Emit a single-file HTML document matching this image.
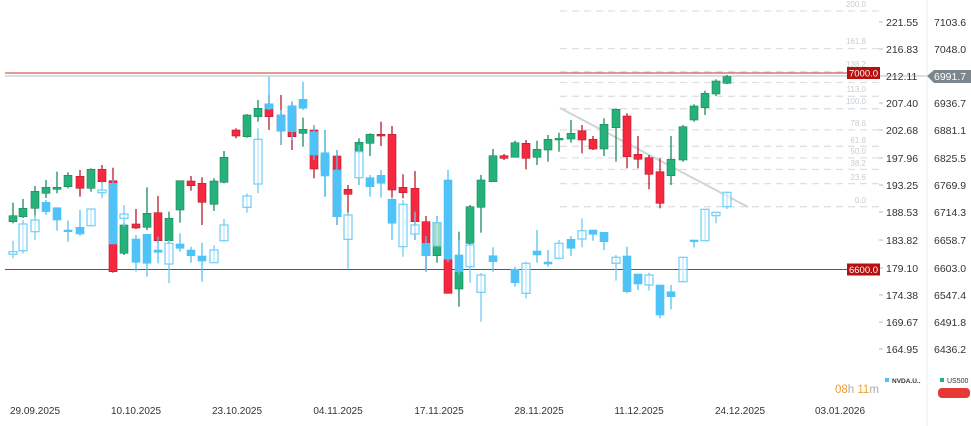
<!DOCTYPE html>
<html><head><meta charset="utf-8"><style>
html,body{margin:0;padding:0;background:#fff;width:971px;height:426px;overflow:hidden;font-family:"Liberation Sans",sans-serif}
svg{display:block}
</style></head><body>
<svg id="s" width="971" height="426" xmlns="http://www.w3.org/2000/svg" font-family="Liberation Sans, sans-serif">
<g id="fib" stroke="#dde1e4" stroke-width="1.3" stroke-dasharray="7,5"></g>
<g font-size="8" fill="#c8cdd2" text-anchor="end">
<text x="866" y="7">200.0</text><text x="866" y="44">161.8</text><text x="866" y="67">138.2</text>
<text x="866" y="92">113.0</text><text x="866" y="104">100.0</text><text x="866" y="126">78.6</text>
<text x="866" y="143">61.8</text><text x="866" y="154">50.0</text><text x="866" y="166">38.2</text>
<text x="866" y="180">23.6</text><text x="866" y="203">0.0</text>
</g>
<line x1="560" y1="108" x2="748" y2="207" stroke="#cfd4d8" stroke-width="2"/>
<line x1="5" y1="73" x2="880" y2="73" stroke="#c0392b" stroke-width="1"/>
<line x1="5" y1="76" x2="930" y2="76" stroke="#b8bec3" stroke-width="1"/>
<line x1="5" y1="269.5" x2="880" y2="269.5" stroke="#c62828" stroke-width="1"/>
<g id="c"></g>
<line x1="927" y1="0" x2="927" y2="426" stroke="#eef0f2"/>
<g font-size="10.5" fill="#333" >
<text x="886" y="26">221.55</text><text x="886" y="53">216.83</text><text x="886" y="80">212.11</text>
<text x="886" y="107">207.40</text><text x="886" y="134">202.68</text><text x="886" y="162">197.96</text>
<text x="886" y="189">193.25</text><text x="886" y="216">188.53</text><text x="886" y="244">183.82</text>
<text x="886" y="272">179.10</text><text x="886" y="299">174.38</text><text x="886" y="326">169.67</text>
<text x="886" y="353">164.95</text>
<text x="934" y="26">7103.6</text><text x="934" y="53">7048.0</text>
<text x="934" y="107">6936.7</text><text x="934" y="134">6881.1</text><text x="934" y="162">6825.5</text>
<text x="934" y="189">6769.9</text><text x="934" y="216">6714.3</text><text x="934" y="244">6658.7</text>
<text x="934" y="272">6603.0</text><text x="934" y="299">6547.4</text><text x="934" y="326">6491.8</text>
<text x="934" y="353">6436.2</text>
</g>
<g stroke="#bbb"><line x1="879" y1="22" x2="883" y2="22"/><line x1="879" y1="49" x2="883" y2="49"/><line x1="879" y1="103" x2="883" y2="103"/><line x1="879" y1="130" x2="883" y2="130"/><line x1="879" y1="158" x2="883" y2="158"/><line x1="879" y1="185" x2="883" y2="185"/><line x1="879" y1="212" x2="883" y2="212"/><line x1="879" y1="240" x2="883" y2="240"/><line x1="879" y1="268" x2="883" y2="268"/><line x1="879" y1="295" x2="883" y2="295"/><line x1="879" y1="322" x2="883" y2="322"/><line x1="879" y1="349" x2="883" y2="349"/></g>
<rect x="847" y="67" width="33" height="12" fill="#b80f0f"/><text x="863.5" y="76.5" font-size="9.5" fill="#fff" text-anchor="middle">7000.0</text>
<rect x="847" y="263.5" width="33" height="12" fill="#b80f0f"/><text x="863.5" y="273" font-size="9.5" fill="#fff" text-anchor="middle">6600.0</text>
<polygon points="927,76 934,70 971,70 971,83 934,83" fill="#7d868c"/><text x="934" y="80" font-size="10.5" fill="#fff">6991.7</text>
<g font-size="10" fill="#333" text-anchor="middle">
<text x="35" y="414">29.09.2025</text><text x="136" y="414">10.10.2025</text><text x="237" y="414">23.10.2025</text>
<text x="338" y="414">04.11.2025</text><text x="439" y="414">17.11.2025</text><text x="539" y="414">28.11.2025</text>
<text x="639" y="414">11.12.2025</text><text x="740" y="414">24.12.2025</text><text x="840" y="414">03.01.2026</text>
</g>
<text x="835" y="393" font-size="11.5" fill="#f5a030">08<tspan fill="#aaa">h </tspan>11<tspan fill="#aaa">m</tspan></text>
<rect x="885" y="378" width="4" height="4" fill="#4fc3f7"/><text x="892" y="383" font-size="6.5" fill="#333" font-weight="bold">NVDA.U..</text>
<rect x="940" y="378" width="4" height="4" fill="#26b07a"/><text x="947" y="383" font-size="7" fill="#333">US500</text>
<rect x="938" y="388" width="32" height="10" rx="4" fill="#e53935"/>
</svg>
<script>
var NS="http://www.w3.org/2000/svg";
var fib=document.getElementById('fib');
[11,48.6,71.7,82.5,96.3,108.7,129.9,146.3,157.9,169.4,183.6,206.7].forEach(function(y){
var l=document.createElementNS(NS,'line');l.setAttribute('x1',560);l.setAttribute('x2',880);l.setAttribute('y1',y);l.setAttribute('y2',y);fib.appendChild(l);});
var U=[[13,215.7,221.7,202.7,223.3,'g'],[23,208.3,216.7,199,218,'g'],[35,191.3,208.3,186,216.7,'g'],[46,187.3,193.3,180,198,'g'],[57,187.3,189.3,171.7,193.3,'g'],[68,175.3,186.7,172.3,188.3,'g'],[80,176.3,188.3,170,196.7,'r'],[91,169.3,188.3,168.3,191.7,'g'],[102,169.3,181.7,165,183.3,'r'],[113,180.7,271.7,167.7,272.7,'r'],[124,225,253.3,223,255,'g'],[136,224,228,209,229,'r'],[147,213.3,227.3,187.3,230,'g'],[158,212.7,240.7,196,243.3,'r'],[169,218.3,240.7,211.7,243.3,'g'],[180,180.7,210,180.7,222.7,'g'],[191,181,185.7,176,190.7,'r'],[202,183.3,202.3,177.3,225,'r'],[214,181,204.3,178.3,211,'g'],[224,157.3,182.3,151,183.3,'g'],[236,130,136,128.3,138.3,'r'],[247,115,136.7,114,137.7,'g'],[258,108.3,116.7,100,121.7,'g'],[269,104,116.7,95,130,'r'],[281,115,131,95,145,'r'],[292,106,136.7,101.7,150,'r'],[303,129.3,133.3,117.7,146.7,'g'],[314,130,169,125,178.3,'r'],[325,155,170,130,196.7,'g'],[337,156,216.7,150,225,'r'],[348,189.3,194.3,185,215,'r'],[359,142.3,151.7,138.3,185,'g'],[370,134.3,143.3,133.3,156,'g'],[381,134.3,136,121.7,146,'r'],[392,134.3,190,126,197.7,'r'],[403,187.3,192.7,174.3,198.3,'r'],[415,188.3,221.7,171,240,'r'],[426,221.7,255.7,216,271.7,'r'],[437,222.7,255.7,216,262.7,'g'],[448,259.3,293.3,180,293.3,'r'],[459,271.7,289,231.7,306.7,'g'],[470,206.7,243.3,205,245,'g'],[481,180,207.3,175,232.7,'g'],[493,155.7,181.7,149,181.7,'g'],[504,155.7,158.3,154,160,'r'],[515,142.7,157.3,140.7,157.3,'g'],[526,143.3,158.3,140,169.3,'r'],[537,149.3,157.3,140.7,165,'g'],[548,139.3,150,135,161.7,'g'],[559,138.3,140,132.7,151.7,'g'],[571,133.3,139,120,142.7,'g'],[582,130.7,140,125,153.3,'r'],[593,139.3,149,136,150,'r'],[604,124.3,149,118.3,156,'g'],[616,109.3,127.7,108.3,161.7,'g'],[627,116,156.7,113.3,168.3,'r'],[638,154.3,159.3,136,168.3,'r'],[649,157.7,174.3,155,189.3,'r'],[660,171.7,203.3,158.3,208.3,'r'],[671,159.3,175.7,136,185,'g'],[683,126.7,160,125,161.7,'g'],[694,106,120,104.3,121.7,'g'],[705,93.3,107.7,90.7,115,'g'],[716,81,94,79.3,96,'g'],[727,76.7,83.3,75,84,'g']];
var N=[[13,251.7,254.3,240.7,258.3,'h'],[23,224,250.7,220,253.3,'h'],[35,220,231.7,215,240,'h'],[46,202.3,211.7,200,215,'b'],[57,207.7,220,207.7,230.7,'b'],[68,230,231.7,220.7,241.7,'b'],[80,227.3,234,210,235.7,'b'],[91,209,225.7,209,225.7,'h'],[102,190,192.7,181.7,198.3,'h'],[113,183.3,244,180,244,'b'],[124,214,218.3,205,226.7,'h'],[136,239,262.3,235,271.7,'b'],[147,234.3,263.3,234,276.7,'b'],[158,250,252.3,236.7,263.3,'b'],[169,243.3,264,240,283.3,'h'],[180,244,248.3,233.3,251.7,'b'],[191,250,255.7,246.7,262.7,'b'],[202,256,261,242.7,281.7,'b'],[214,250,262.7,245,262.7,'h'],[224,225,240.7,219,241.7,'h'],[247,196,207.3,193.3,212.7,'h'],[258,139.3,184,128.3,193.3,'h'],[269,104,109,76.7,110,'b'],[281,115,131,110,145,'b'],[292,106,131.7,101.7,140,'b'],[303,99.3,108.3,81.7,110,'b'],[314,131.7,155,125,160,'b'],[325,152.7,176,130.7,196.7,'b'],[337,170,216.7,150,225,'b'],[348,215,239.3,212,269.3,'h'],[359,151.7,177.7,145,185,'h'],[370,177.7,186.7,175,196.7,'b'],[381,175.3,183.3,170,197.7,'b'],[392,199.3,223.3,197,240,'b'],[403,204.3,246.7,200,256.7,'h'],[415,225,234,211.7,240,'h'],[426,243.3,255.7,236,271.7,'b'],[437,222.7,246,216,246,'h'],[448,180,259.3,170,262,'b'],[459,255,271.7,240,275,'b'],[470,245,266.7,244,283,'h'],[481,275,292.3,273,321.7,'h'],[493,255.7,261.7,247.3,271.7,'b'],[515,269.3,282.7,266.7,286.7,'b'],[526,263.3,293.3,261.7,298.3,'h'],[537,251,255,230,262.7,'b'],[548,262,264,250,266.7,'b'],[559,243.3,258.3,240,258.3,'h'],[571,239.3,248.3,236,256,'b'],[582,230.7,239,218.3,247.3,'h'],[593,230,234.3,230,240.7,'b'],[604,232.3,241.7,232,250,'b'],[616,257.3,263.3,255,280.7,'h'],[627,256,291.7,246.7,293.3,'b'],[638,274,284,274,290,'b'],[649,275,285,272.7,290.7,'h'],[660,285,315,285,318.3,'b'],[671,291.7,296.7,285,309.3,'b'],[683,257.3,281.7,257.3,281.7,'h'],[694,240,241.7,240,247.3,'b'],[705,209.3,240.7,209.3,240.7,'h'],[716,212.3,215.7,212.3,223.3,'h'],[727,192.3,206.7,192.3,209,'h']];
var g=document.getElementById('c');
var C={g:['#26b07a','#1a8a5a'],r:['#f5283f','#b81c2e'],b:['#4fc3f7','#4fc3f7'],h:['rgba(255,255,255,0.55)','#6fcdf7']};
function draw(a){a.forEach(function(d){var c=C[d[5]];
var l=document.createElementNS(NS,'line');l.setAttribute('x1',d[0]);l.setAttribute('x2',d[0]);l.setAttribute('y1',d[3]);l.setAttribute('y2',d[4]);l.setAttribute('stroke',c[1]);l.setAttribute('stroke-width',1.3);g.appendChild(l);
var r=document.createElementNS(NS,'rect');r.setAttribute('x',d[0]-4);r.setAttribute('width',8);r.setAttribute('y',d[1]);r.setAttribute('height',Math.max(1.5,d[2]-d[1]));r.setAttribute('fill',c[0]);r.setAttribute('stroke',c[1]);r.setAttribute('stroke-width',d[5]=='h'?1.2:0.6);g.appendChild(r);});}
draw(U);draw(N);
</script>
</body></html>
